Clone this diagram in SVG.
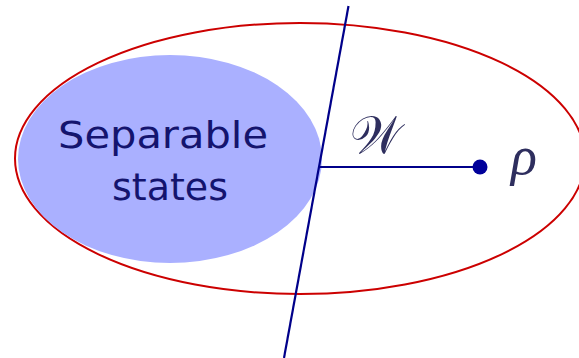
<svg xmlns="http://www.w3.org/2000/svg" width="579" height="358" viewBox="0 0 579 358">
<style>
.lbl{font-family:"DejaVu Sans","Liberation Sans",sans-serif;font-size:38px;fill:#14146e;text-anchor:middle}
.math{font-family:"Liberation Serif","DejaVu Serif",serif;fill:#2e2e5e}
.conn{stroke:#00008a;stroke-width:2.2;fill:none}
</style>
<rect width="579" height="358" fill="#ffffff"/>
<g id="entangled-set">
<ellipse cx="300" cy="158.5" rx="285" ry="135.5" fill="none" stroke="#cc0000" stroke-width="2"/>
</g>
<g id="separable-states">
<ellipse cx="170" cy="159" rx="152" ry="104" fill="#aab0ff"/>
<text class="lbl" x="163" y="148" textLength="210" lengthAdjust="spacingAndGlyphs">Separable</text>
<text class="lbl" x="170" y="200" textLength="116" lengthAdjust="spacingAndGlyphs">states</text>
</g>
<g id="connectors">
<line class="conn" x1="348.5" y1="6" x2="284" y2="358"/>
<line class="conn" x1="319" y1="167" x2="480" y2="167"/>
</g>
<g id="rho">
<circle cx="480" cy="167" r="7.5" fill="#00009a"/>
<text class="math" x="511" y="174" font-size="54" font-style="italic">ρ</text>
</g>
<g id="witness-label">
<text class="math" x="350" y="153" font-size="52" textLength="52" lengthAdjust="spacingAndGlyphs">𝒲</text>
</g>
</svg>
